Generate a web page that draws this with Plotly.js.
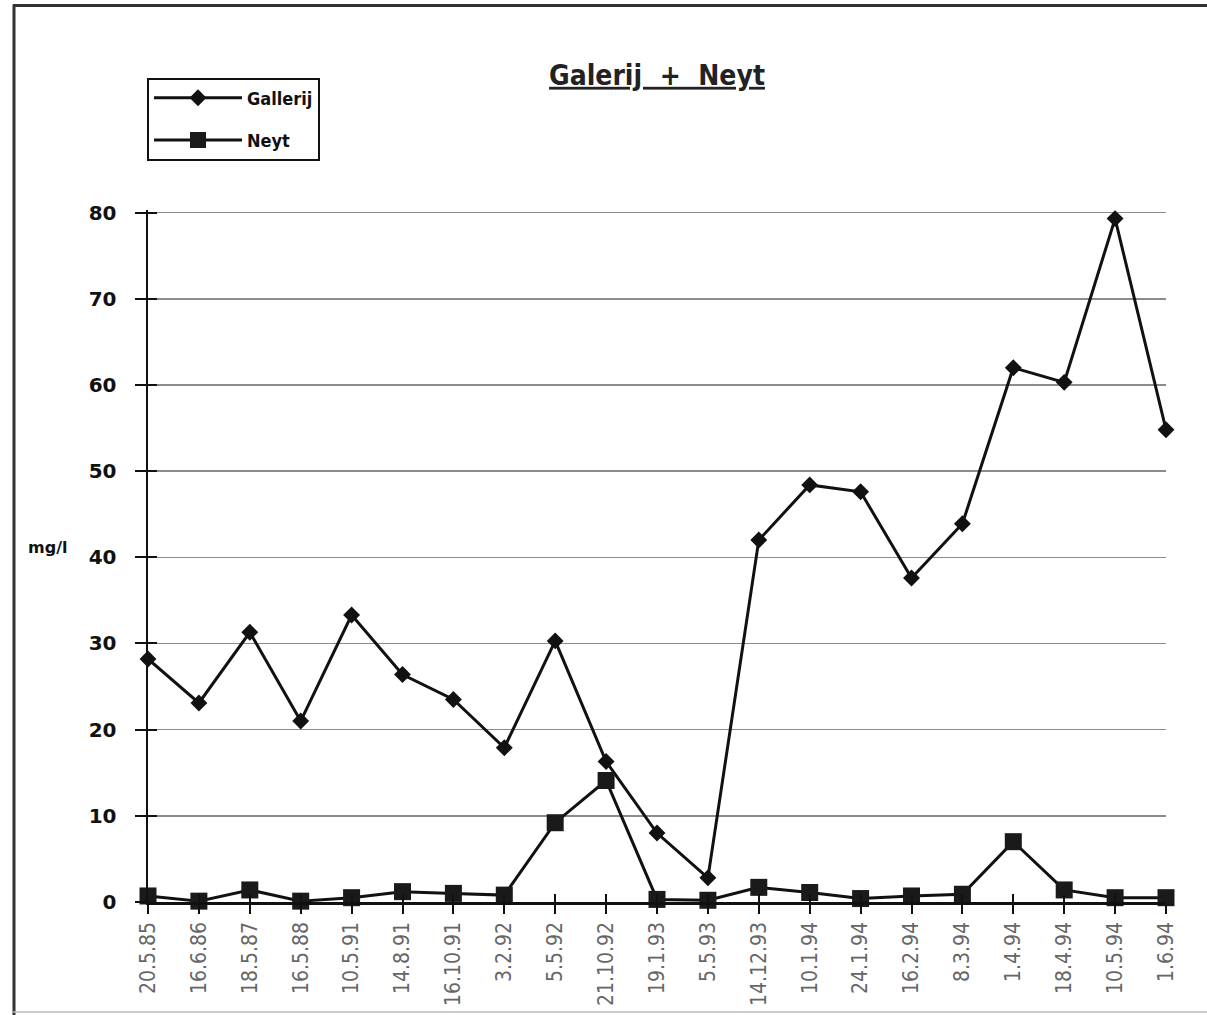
<!DOCTYPE html>
<html>
<head>
<meta charset="utf-8">
<script src="https://cdn.plot.ly/plotly-3.0.1.min.js"></script>
<style>
  html, body { margin: 0; padding: 0; background: #ffffff; }
  #chart { width: 1207px; height: 1015px; }
</style>
</head>
<body>
<div id="chart"></div>
<script>
// Sampling dates
const dates = [
  '20.5.85', '16.6.86', '18.5.87', '16.5.88', '10.5.91', '14.8.91', '16.10.91',
  '3.2.92', '5.5.92', '21.10.92', '19.1.93', '5.5.93', '14.12.93', '10.1.94',
  '24.1.94', '16.2.94', '8.3.94', '1.4.94', '18.4.94', '10.5.94', '1.6.94'
];

// Concentrations in mg/l
const gallerij = [
  28.2, 23.1, 31.3, 21.0, 33.3, 26.4, 23.5, 17.9, 30.3, 16.3, 8.0,
  2.8, 42.0, 48.4, 47.6, 37.6, 43.9, 62.0, 60.3, 79.3, 54.8
];
const neyt = [
  0.7, 0.1, 1.4, 0.1, 0.5, 1.2, 1.0, 0.8, 9.2, 14.1, 0.3,
  0.2, 1.7, 1.1, 0.4, 0.7, 0.9, 7.0, 1.4, 0.5, 0.5
];

const yTicks = [0, 10, 20, 30, 40, 50, 60, 70, 80];
const yMax = 80.3;   // a hair above 80 so the top gridline is drawn

// Plot area in pixels
const W = 1207, H = 1015;
const PX_PER_UNIT = 8.6125;
const PL = 148, PR = 1166, PB = 902;
const PT = PB - yMax * PX_PER_UNIT;
const px = x => (x - PL) / (PR - PL);
const py = y => (PB - y) / (PB - PT);

const narrow = '"DejaVu Sans Condensed", "Liberation Sans Narrow", "Arial Narrow", sans-serif';
const heavy = '"DejaVu Sans", "Liberation Sans", sans-serif';

const traces = [
  {
    type: 'scatter', mode: 'lines+markers', name: 'Gallerij',
    x: dates, y: gallerij, legendgroup: 'g',
    line: { color: '#111111', width: 3 },
    marker: { symbol: 'diamond', size: 13, color: '#111111' },
    cliponaxis: false
  },
  {
    type: 'scatter', mode: 'lines+markers', name: 'Neyt',
    x: dates, y: neyt, legendgroup: 'n',
    xaxis: 'x2', yaxis: 'y2',
    line: { color: '#111111', width: 3 },
    marker: { symbol: 'square', size: 17, color: '#1a1a1a' },
    cliponaxis: false
  }
];

const xBase = {
  type: 'category',
  categoryorder: 'array',
  categoryarray: dates,
  range: [0, dates.length - 1],
  showgrid: false,
  zeroline: false,
  showline: true,
  linecolor: '#111111',
  linewidth: 2.5,
  fixedrange: true
};
const yBase = {
  range: [0, yMax],
  tickvals: yTicks,
  zeroline: false,
  showline: true,
  linecolor: '#111111',
  linewidth: 2.5,
  fixedrange: true
};

const layout = {
  width: W, height: H,
  margin: { l: PL, r: W - PR, t: PT, b: H - PB },
  paper_bgcolor: '#ffffff',
  plot_bgcolor: '#ffffff',
  showlegend: true,
  title: {
    text: '<b><u>Galerij\u00a0 +\u00a0 Neyt</u></b>',
    font: { family: narrow, size: 28, color: '#222222' },
    xref: 'paper', x: px(657), xanchor: 'center',
    yref: 'container', y: 1 - 75 / H, yanchor: 'middle'
  },
  xaxis: Object.assign({}, xBase, {
    ticks: 'outside', ticklen: 9, tickwidth: 2, tickcolor: '#111111',
    tickangle: -90,
    ticklabelstandoff: 0,
    tickfont: { family: narrow, size: 21, color: '#666666' }
  }),
  yaxis: Object.assign({}, yBase, {
    showgrid: true, gridcolor: '#8c8c8c', gridwidth: 1.5,
    ticks: 'outside', ticklen: 11, tickwidth: 2, tickcolor: '#111111',
    ticklabelstandoff: 14,
    tickfont: { family: heavy, size: 20, color: '#111111', weight: 'bold' }
  }),
  xaxis2: Object.assign({}, xBase, {
    overlaying: 'x', anchor: 'y2', side: 'bottom',
    ticks: 'inside', ticklen: 8, tickwidth: 2, tickcolor: '#111111',
    showticklabels: false
  }),
  yaxis2: Object.assign({}, yBase, {
    overlaying: 'y', anchor: 'x2', side: 'left',
    showgrid: false,
    ticks: 'inside', ticklen: 9, tickwidth: 2, tickcolor: '#111111',
    showticklabels: false
  }),
  legend: {
    x: px(147), xanchor: 'left',
    y: py(78), yanchor: 'top',
    bgcolor: '#ffffff',
    bordercolor: '#111111', borderwidth: 2,
    itemwidth: 88,
    traceorder: 'grouped',
    tracegroupgap: 16,
    font: { family: narrow, size: 18, color: '#111111', weight: 'bold' }
  },
  annotations: [
    {
      text: '<b>mg/l</b>',
      xref: 'paper', yref: 'paper',
      x: px(47), y: py(548),
      xanchor: 'center', yanchor: 'middle',
      showarrow: false,
      font: { family: heavy, size: 16, color: '#111111' }
    }
  ],
  shapes: [
    // page frame
    { type: 'line', xref: 'paper', yref: 'paper', x0: px(13), x1: px(1210), y0: py(6), y1: py(6),
      line: { color: '#333333', width: 3 } },
    { type: 'line', xref: 'paper', yref: 'paper', x0: px(14), x1: px(14), y0: py(5), y1: py(1016),
      line: { color: '#333333', width: 3 } },
    { type: 'line', xref: 'paper', yref: 'paper', x0: px(13), x1: px(1210), y0: py(1012), y1: py(1012),
      line: { color: '#bbbbbb', width: 1.5 } }
  ]
};

Plotly.newPlot('chart', traces, layout, { displayModeBar: false, staticPlot: true });
</script>
</body>
</html>
